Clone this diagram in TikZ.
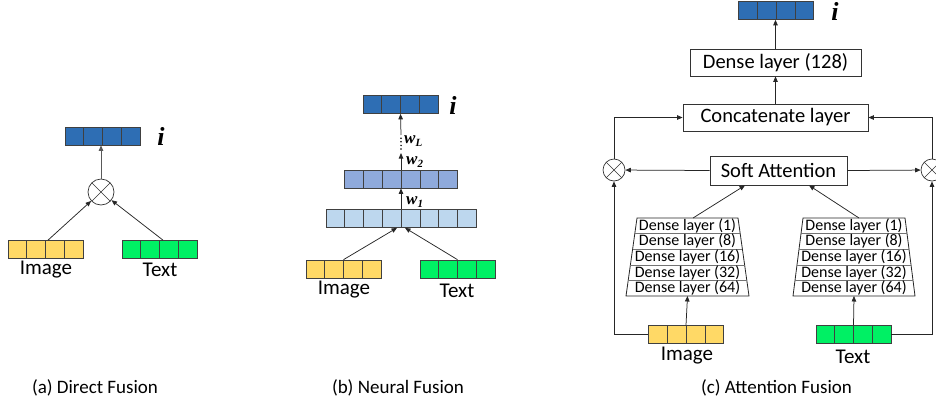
\documentclass[tikz,border=0pt]{standalone}
\usepackage{fontspec}
\setmainfont{Carlito}
\newfontfamily\symserif{Liberation Serif}
\usetikzlibrary{arrows.meta,calc}

\definecolor{outblue}{HTML}{2E6EB4}
\definecolor{midblue}{HTML}{8FAADC}
\definecolor{lightblue}{HTML}{BDD7EE}
\definecolor{imgyellow}{HTML}{FFD966}
\definecolor{txtgreen}{HTML}{00F064}

\tikzset{
  cellbar/.style={draw=black!75, line width=0.7pt, minimum height=18pt, inner sep=0pt},
  layerbox/.style={draw=black!80, line width=0.8pt, fill=white, inner sep=0pt,
    font=\fontsize{20.5}{24}\selectfont},
  conn/.style={draw=black!85, line width=0.75pt, -{Triangle[length=5.5pt,width=4.5pt]}},
  mixer/.style={circle, draw=black!80, line width=0.7pt, inner sep=0pt,
    path picture={\draw[black!80, line width=0.6pt]
      (path picture bounding box.north west) -- (path picture bounding box.south east)
      (path picture bounding box.north east) -- (path picture bounding box.south west);}},
  lbl/.style={font=\fontsize{21}{25}\selectfont, anchor=base, inner sep=0pt},
  subcaption/.style={font=\fontsize{19}{23}\selectfont, inner sep=0pt},
  outvar/.style={font=\symserif\bfseries\itshape\fontsize{26}{30}\selectfont, inner sep=0pt},
  wlbl/.style={font=\symserif\bfseries\itshape\fontsize{17}{19}\selectfont, anchor=west, inner sep=0pt},
  stackrow/.style={font=\fontsize{16}{18}\selectfont, inner sep=0pt},
}

% bar of #3 equal cells: name, position, cell count, fill colour
\newcommand{\drawcells}[4]{%
  \node[cellbar, fill=#4, minimum width=#3*18.75pt] (#1) at #2 {};
  \foreach \k in {2,...,#3}
    \draw[black!75, line width=0.6pt]
      ($(#1.south west)!{(\k-1)/#3}!(#1.south east)$) --
      ($(#1.north west)!{(\k-1)/#3}!(#1.north east)$);
}

% tapered stack of five dense layers: prefix, centre x, top half-width, bottom half-width
\newcommand{\densestack}[4]{%
  \draw[black!85, line width=0.8pt, fill=white]
    ({#2-#3},218) -- ({#2+#3},218) -- ({#2+#4},296) -- ({#2-#4},296) -- cycle;
  \foreach \k in {1,...,4}
    \draw[black!55, line width=0.6pt]
      ({#2-#3-(#4-#3)*\k/5},{218+15.6*\k}) -- ({#2+#3+(#4-#3)*\k/5},{218+15.6*\k});
  \foreach \t [count=\k] in {1,8,16,32,64}
    \node[stackrow] (#1\k) at (#2,{218+15.6*(\k-0.5)}) {Dense layer (\t)};
  \coordinate (#1top) at (#2,218);
  \coordinate (#1bot) at (#2,296);
}

\newcommand{\wsub}[2]{#1\raisebox{-0.3ex}{\fontsize{11}{12}\selectfont #2}}

\begin{document}
\begin{tikzpicture}[x=1pt, y=-1pt]
\useasboundingbox (0,0) rectangle (936,405);

% ---------------- (a) Direct Fusion ----------------
\drawcells{outA}{(102.5,136)}{4}{outblue}
\node[outvar] (iA) at (161,136) {i};
\node[mixer, minimum size=26pt] (mulA) at (101,192) {};
\drawcells{imgA}{(45.5,249.5)}{4}{imgyellow}
\drawcells{txtA}{(159.5,249.5)}{4}{txtgreen}
\node[lbl] (imgAl) at (46,274) {Image};
\node[lbl] (txtAl) at (160,276) {Text};
\draw[conn, draw=black!65] (mulA.north) -- (mulA.north |- outA.south);
\draw[conn] ($(imgA.north)+(2.5,0)$) -- (mulA);
\draw[conn] ($(txtA.north)+(3.5,0)$) -- (mulA);
\node[subcaption] (capA) at (95,388) {(a) Direct Fusion};

% ---------------- (b) Neural Fusion ----------------
\drawcells{outB}{(400.5,104.5)}{4}{outblue}
\node[outvar] (iB) at (453,105) {i};
\drawcells{hidB}{(401,179)}{6}{midblue}
\drawcells{catB}{(401,218.5)}{8}{lightblue}
\drawcells{imgB}{(343.5,269)}{4}{imgyellow}
\drawcells{txtB}{(457.5,269)}{4}{txtgreen}
\node[lbl] (imgBl) at (344,294) {Image};
\node[lbl] (txtBl) at (457,297) {Text};
\draw[conn] (imgB.north) -- ($(catB.south)+(-4,0)$);
\draw[conn] (txtB.north) -- ($(catB.south)+(4,0)$);
\draw[conn] (catB.north) -- (hidB.south);
\coordinate (gapB1) at (401,153);
\coordinate (gapB2) at (401,149);
\coordinate (gapB3) at (401,135);
\draw[conn] (hidB.north) -- (gapB1);
\draw[black, line width=1.7pt, dash pattern=on 0pt off 3.6pt, line cap=round] (gapB2) -- (gapB3);
\draw[conn] (gapB3) -- (outB.south);
\node[wlbl] (w1) at (406,202) {\wsub{w}{1}};
\node[wlbl] (w2) at (406,162) {\wsub{w}{2}};
\node[wlbl] (wL) at (404,141) {\wsub{w}{L}};
\node[subcaption] (capB) at (398,388) {(b) Neural Fusion};

% ---------------- (c) Attention Fusion ----------------
\drawcells{outC}{(776,10.5)}{4}{outblue}
\node[outvar] (iC) at (835,11) {i};
\node[layerbox, minimum width=171pt, minimum height=27pt] (dense) at (775.5,62.5) {Dense layer (128)};
\node[layerbox, minimum width=185pt, minimum height=27pt] (concat) at (775.5,117.5) {Concatenate layer};
\node[layerbox, minimum width=137pt, minimum height=29pt] (soft) at (778.5,170.5) {Soft Attention};
\node[mixer, minimum size=22pt] (mulL) at (614,170) {};
\node[mixer, minimum size=22pt] (mulR) at (932,170) {};
\densestack{sL}{687.5}{50.5}{61.5}
\densestack{sR}{854}{51}{61}
\drawcells{imgC}{(686,334.5)}{4}{imgyellow}
\drawcells{txtC}{(853.5,334.5)}{4}{txtgreen}
\node[lbl] (imgCl) at (687,360) {Image};
\node[lbl] (txtCl) at (853,363) {Text};

\draw[conn] (dense.north) -- (dense.north |- outC.south);
\draw[conn] (concat.north) -- (concat.north |- dense.south);
\draw[conn] (soft.west) -- (mulL);
\draw[conn] (soft.east) -- (mulR);
\draw[conn] (mulL.north) |- (concat.west);
\draw[conn] (mulR.north) |- (concat.east);
\draw[conn] (imgC.west) -| (mulL.south);
\draw[conn] (txtC.east) -| (mulR.south);
\draw[conn] ($(sLtop)+(5.5,0)$) -- ($(soft.south)+(-33.5,0)$);
\draw[conn] ($(sRtop)+(5,0)$) -- ($(soft.south)+(30.5,0)$);
\draw[conn] (imgC.north) -- (sLbot);
\draw[conn] (txtC.north) -- (sRbot);
\node[subcaption] (capC) at (776.5,388) {(c) Attention Fusion};
\end{tikzpicture}
\end{document}
